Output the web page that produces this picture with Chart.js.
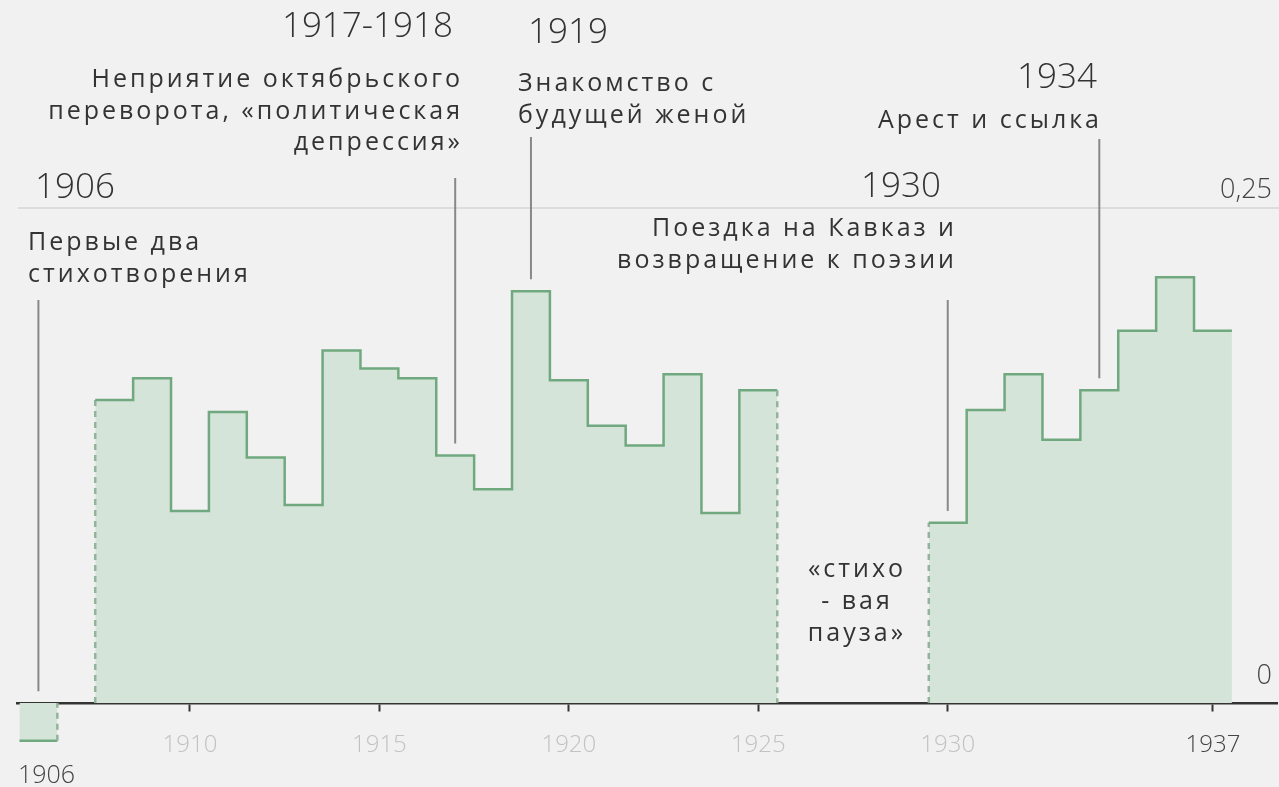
<!DOCTYPE html>
<html>
<head>
<meta charset="utf-8">
<script src="https://cdn.jsdelivr.net/npm/chart.js@4"></script>
<style>
  body { margin: 0; background: #f1f1f1; }
  canvas { display: block; }
</style>
</head>
<body>
<canvas id="chart" width="1279" height="787"></canvas>
<script>
// данные по годам (доля), три куска с разрывами
const years1 = [1906];
const values1 = [-0.019];

const years2 = [1908, 1909, 1910, 1911, 1912, 1913, 1914, 1915, 1916, 1917, 1918, 1919, 1920, 1921, 1922, 1923, 1924, 1925];
const values2 = [0.153, 0.164, 0.097, 0.147, 0.124, 0.100, 0.178, 0.169, 0.164, 0.125, 0.108, 0.208, 0.163, 0.140, 0.130, 0.166, 0.096, 0.158];

const years3 = [1930, 1931, 1932, 1933, 1934, 1935, 1936, 1937];
const values3 = [0.091, 0.148, 0.166, 0.133, 0.158, 0.188, 0.215, 0.188];

const tickYears = [1910, 1915, 1920, 1925, 1930, 1937];
const yLabels = [[0.25, "0,25"], [0, "0"]];

const allYears = years1.concat(years2, years3);
const allValues = values1.concat(values2, values3);

const FONT = '"Open Sans", "Noto Sans", sans-serif';
const LINE = "#70a97f";
const FILL = "#d5e4d9";

// подписи событий
const notes = [
  { year: 1906, top: 300, title: "1906", tx: 35, ty: 198, align: "left",
    lines: ["Первые два", "стихотворения"], lx: 28, ly: 250 },
  { year: 1917, top: 178, title: "1917-1918", tx: 453, ty: 37, align: "right",
    lines: ["Неприятие октябрьского", "переворота, «политическая", "депрессия»"], lx: 463, ly: 87 },
  { year: 1919, top: 137, title: "1919", tx: 528, ty: 43, align: "left",
    lines: ["Знакомство с", "будущей женой"], lx: 518, ly: 91 },
  { year: 1930, top: 300, title: "1930", tx: 941, ty: 197, align: "right",
    lines: ["Поездка на Кавказ и", "возвращение к поэзии"], lx: 957, ly: 236 },
  { year: 1934, top: 139, title: "1934", tx: 1097, ty: 88, align: "right",
    lines: ["Арест и ссылка"], lx: 1102, ly: 128 }
];

function stepPoints(years, values) {
  const n = years.length;
  const pts = [{ x: years[0] - 0.5, y: 0 }];
  for (let i = 0; i < n; i++) pts.push({ x: years[i] - 0.5, y: values[i] });
  pts.push({ x: years[n - 1] + 0.5, y: values[n - 1] });
  pts.push({ x: years[n - 1] + 0.5, y: 0 });
  return pts;
}

function edgeColor(ctx) {
  const a = ctx.p0.parsed, b = ctx.p1.parsed;
  if (a.y === 0 || b.y === 0) {
    if (a.x < 1906 || b.x > 1937) return "transparent";
    return "#93b39b";
  }
  return undefined;
}
function edgeDash(ctx) {
  const a = ctx.p0.parsed, b = ctx.p1.parsed;
  return (a.y === 0 || b.y === 0) ? [6, 5] : undefined;
}

function makeSet(years, values) {
  return {
    data: stepPoints(years, values),
    stepped: true,
    borderColor: LINE,
    borderWidth: 2.5,
    backgroundColor: FILL,
    fill: "origin",
    pointRadius: 0,
    segment: { borderColor: edgeColor, borderDash: edgeDash }
  };
}

const decor = {
  id: "decor",
  beforeDatasetsDraw(chart) {
    const c = chart.ctx, y = chart.scales.y;
    c.save();
    c.strokeStyle = "#dcdcdc";
    c.lineWidth = 2;
    c.beginPath();
    c.moveTo(18, y.getPixelForValue(0.25));
    c.lineTo(1279, y.getPixelForValue(0.25));
    c.stroke();
    c.restore();
  },
  afterDatasetsDraw(chart) {
    const c = chart.ctx, x = chart.scales.x, y = chart.scales.y;
    c.save();
    // значения оси справа
    c.fillStyle = "#444";
    c.font = "300 27px " + FONT;
    c.textAlign = "right";
    c.textBaseline = "alphabetic";
    yLabels.forEach(([v, t]) => c.fillText(t, 1272, y.getPixelForValue(v) - 10 - (v === 0 ? 9 : 0)));

    // подпись 1906 под осью
    c.textAlign = "left";
    c.font = "300 25px " + FONT;
    c.fillText("1906", 18, 783);

    // линии-выноски
    c.strokeStyle = "#888";
    c.lineWidth = 2;
    notes.forEach(n => {
      const v = allValues[allYears.indexOf(n.year)];
      const px = x.getPixelForValue(n.year);
      c.beginPath();
      c.moveTo(px, n.top);
      c.lineTo(px, y.getPixelForValue(Math.max(v, 0) + 0.006));
      c.stroke();
    });

    // тексты
    c.fillStyle = "#333";
    notes.forEach(n => {
      c.textAlign = n.align;
      c.font = "300 35px " + FONT;
      c.letterSpacing = "0px";
      c.fillText(n.title, n.tx, n.ty);
      c.font = "25px " + FONT;
      c.letterSpacing = "3px";
      n.lines.forEach((l, i) => c.fillText(l, n.lx, n.ly + i * 31.5));
    });

    c.textAlign = "center";
    ["«стихо", "- вая", "пауза»"].forEach((l, i) => c.fillText(l, 857, 577 + i * 32));
    c.restore();
  }
};

new Chart(document.getElementById("chart"), {
  type: "line",
  data: {
    datasets: [makeSet(years1, values1), makeSet(years2, values2), makeSet(years3, values3)]
  },
  options: {
    responsive: false,
    animation: false,
    devicePixelRatio: 1,
    layout: { padding: { left: 17, right: 2, top: 0, bottom: 0 } },
    plugins: { legend: { display: false }, tooltip: { enabled: false } },
    scales: {
      x: {
        type: "linear",
        min: 1905.435,
        max: 1938.69,
        position: { y: 0 },
        afterFit: s => { s.height = 0; },
        afterBuildTicks: s => { s.ticks = tickYears.map(v => ({ value: v })); },
        grid: { drawOnChartArea: false, tickLength: 7, tickWidth: 2, color: "#333" },
        border: { color: "#333", width: 2.5 },
        ticks: {
          autoSkip: false,
          maxRotation: 0,
          padding: 21,
          color: ctx => (ctx.tick && ctx.tick.value === 1937 ? "#444" : "#c2c2c2"),
          font: { family: FONT, size: 24, weight: 300 },
          callback: v => String(v)
        }
      },
      y: { display: false, min: -0.04242, max: 0.35505 }
    }
  },
  plugins: [decor]
});
</script>
</body>
</html>
